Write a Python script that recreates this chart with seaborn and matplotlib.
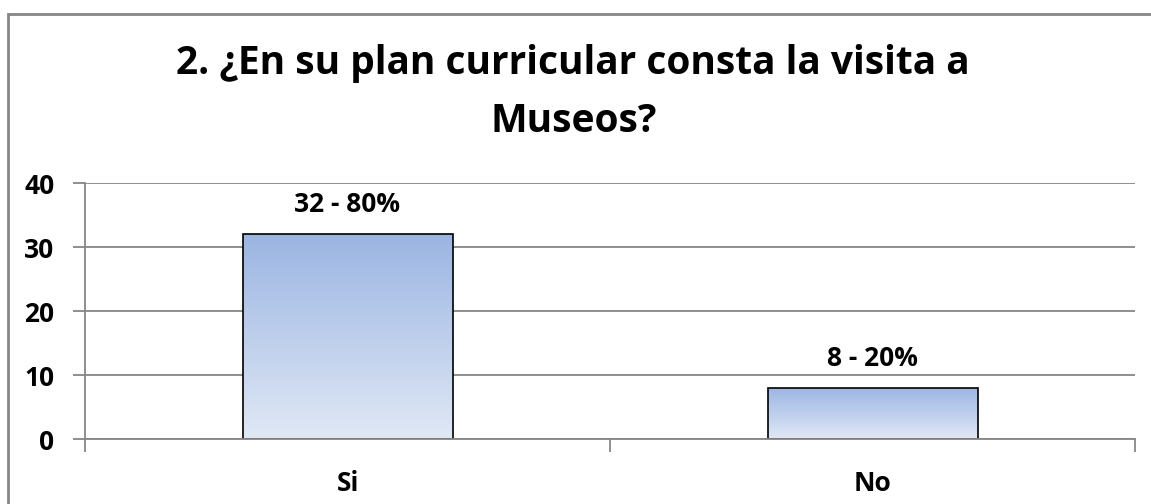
import numpy as np
import pandas as pd
import matplotlib
matplotlib.use("Agg")
import matplotlib.pyplot as plt
from matplotlib.patches import Rectangle
from matplotlib.colors import LinearSegmentedColormap
import seaborn as sns

# datos
respuestas = ["Si", "No"]
cantidades = [32, 8]
porcentajes = [80, 20]
titulo = "2. ¿En su plan curricular consta la visita a\nMuseos?"

df = pd.DataFrame({"Respuesta": respuestas, "Cantidad": cantidades})

sns.set_style("white")
plt.rcParams["font.family"] = ["Open Sans", "DejaVu Sans"]
plt.rcParams["text.color"] = "black"
plt.rcParams["xtick.color"] = "black"
plt.rcParams["ytick.color"] = "black"

fig = plt.figure(figsize=(11.51, 5.04), dpi=100)
ax = fig.add_axes([85 / 1151, 1 - 439 / 504, 1050 / 1151, 256 / 504])

sns.barplot(data=df, x="Respuesta", y="Cantidad", width=0.4, color="#9bb5e2",
            edgecolor="black", linewidth=1.2, ax=ax)

# degradado dentro de las barras (estilo Excel)
grad = LinearSegmentedColormap.from_list("g", ["#e0e8f5", "#9bb5e2"])
col = np.linspace(0, 1, 256).reshape(-1, 1)
for p in list(ax.patches):
    x0, y0 = p.get_x(), p.get_y()
    w, h = p.get_width(), p.get_height()
    im = ax.imshow(col, cmap=grad, origin="lower", aspect="auto",
                   extent=[x0, x0 + w, y0, y0 + h], zorder=p.get_zorder() - 0.1)
    im.set_clip_path(p)
    p.set_facecolor("none")

ax.set_xlim(-0.5, 1.5)
ax.set_ylim(0, 40)
ax.set_yticks([0, 10, 20, 30, 40])
ax.yaxis.grid(True, color="#868686", linewidth=1.3)
ax.set_axisbelow(True)

for s in ["top", "right"]:
    ax.spines[s].set_visible(False)
for s in ["left", "bottom"]:
    ax.spines[s].set_color("#868686")
    ax.spines[s].set_linewidth(1.3)

ax.tick_params(axis="y", which="major", direction="out", length=9, width=1.3,
               color="#868686", labelcolor="black", labelsize=19, pad=13, left=True)
ax.tick_params(axis="x", which="major", length=0, labelsize=19, labelcolor="black", pad=22)
ax.set_xticks([-0.5, 0.5, 1.5], minor=True)
ax.tick_params(axis="x", which="minor", direction="out", length=9, width=1.3,
               color="#868686", bottom=True)
for lab in ax.get_xticklabels() + ax.get_yticklabels():
    lab.set_fontweight("bold")

ax.set_xlabel("")
ax.set_ylabel("")

# etiquetas de valor
for i, (c, pc) in enumerate(zip(cantidades, porcentajes)):
    ax.text(i, c + 4.6, f"{c} - {pc}%", ha="center", va="center",
            fontsize=19, fontweight="bold", color="black")

fig.suptitle(titulo, x=0.498, y=0.912, fontsize=28, fontweight="bold",
             linespacing=1.62, color="black")

# borde del gráfico
fig.patches.append(Rectangle((8 / 1151, -0.1), 1.2, 1 - 14 / 504 + 0.1,
                             transform=fig.transFigure, fill=False,
                             edgecolor="#868686", linewidth=2))

fig.savefig("out.png", dpi=100)
